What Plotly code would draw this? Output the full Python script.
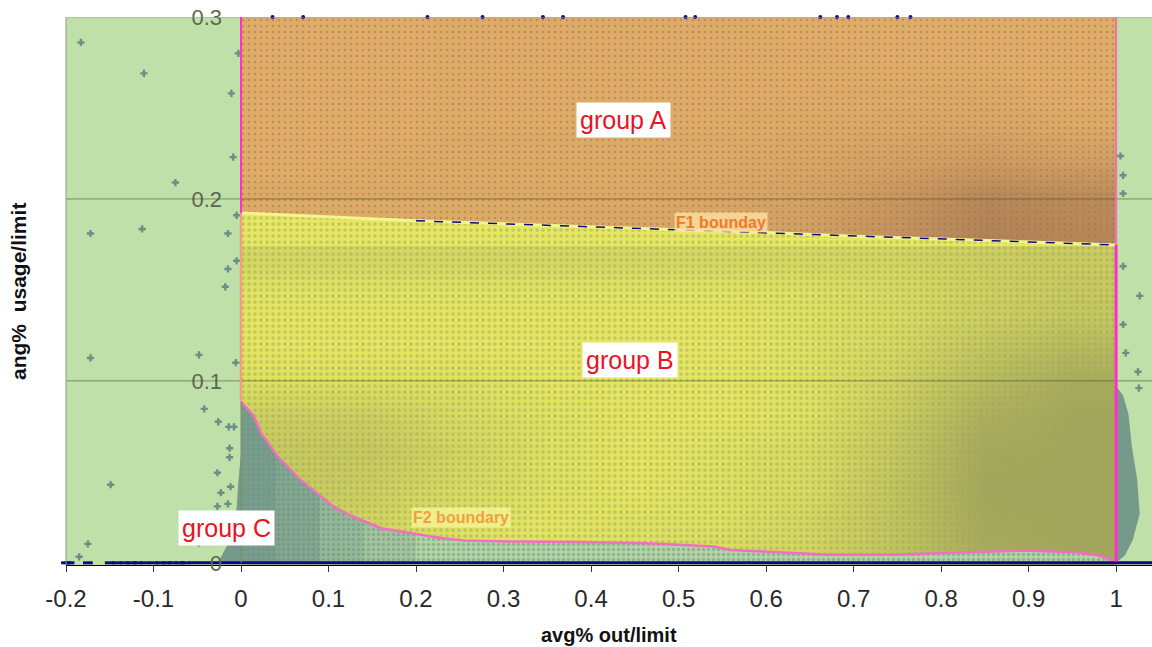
import numpy as np
import plotly.graph_objects as go

# ---------------- data ----------------
# group boundaries
x_lo, x_hi, y_top = 0.0, 1.0, 0.3
f1_x = [0, 0.1, 0.2, 0.3, 0.4, 0.5, 0.6, 0.7, 0.8, 0.9, 1.0]
f1_y = [0.1923, 0.1900, 0.1880, 0.1863, 0.1845, 0.1830, 0.1815, 0.1795, 0.1780, 0.1763, 0.1747]
f2_x = [0, 0.015, 0.023, 0.042, 0.068, 0.091, 0.106, 0.125, 0.145, 0.16, 0.183, 0.198, 0.228,
        0.255, 0.312, 0.388, 0.464, 0.54, 0.559, 0.597, 0.67, 0.746, 0.822, 0.898, 0.955, 0.98, 1.0]
f2_y = [0.0886, 0.0804, 0.0712, 0.0584, 0.0456, 0.0364, 0.0309, 0.026, 0.0218, 0.019, 0.0172, 0.0159,
        0.0137, 0.0123, 0.0117, 0.0114, 0.0108, 0.0090, 0.0071, 0.0062, 0.0044, 0.0044, 0.0057,
        0.0068, 0.0057, 0.004, 0.0007]

# point density (share of area covered by points) - group A
brown_x = [0.05, 0.15, 0.25, 0.35, 0.45, 0.55, 0.65, 0.75, 0.85, 0.95]
brown_y = [0.18, 0.20, 0.22, 0.24, 0.26, 0.28, 0.30]
brown_z = [
    [0.30, 0.30, 0.30, 0.30, 0.35, 0.35, 0.45, 0.60, 0.80, 0.75],
    [0.30, 0.30, 0.30, 0.30, 0.30, 0.35, 0.40, 0.55, 0.75, 0.70],
    [0.25, 0.28, 0.30, 0.30, 0.30, 0.30, 0.35, 0.42, 0.50, 0.45],
    [0.22, 0.25, 0.28, 0.28, 0.28, 0.28, 0.30, 0.32, 0.35, 0.30],
    [0.20, 0.25, 0.28, 0.28, 0.28, 0.28, 0.28, 0.28, 0.30, 0.25],
    [0.18, 0.25, 0.28, 0.28, 0.28, 0.28, 0.28, 0.25, 0.25, 0.20],
    [0.15, 0.25, 0.28, 0.28, 0.28, 0.28, 0.25, 0.22, 0.20, 0.18],
]
# point density - group B
olive_x = [0.05, 0.15, 0.25, 0.35, 0.45, 0.55, 0.65, 0.75, 0.85, 0.95]
olive_y = [0.005, 0.02, 0.04, 0.06, 0.08, 0.10, 0.12, 0.135, 0.15, 0.166]
olive_z = [
    [0.55, 0.55, 0.50, 0.50, 0.50, 0.55, 0.60, 0.75, 0.95, 1.00],
    [0.60, 0.60, 0.50, 0.45, 0.50, 0.50, 0.60, 0.75, 0.98, 1.00],
    [0.70, 0.65, 0.55, 0.50, 0.45, 0.50, 0.55, 0.75, 1.00, 1.00],
    [0.70, 0.70, 0.60, 0.50, 0.45, 0.50, 0.55, 0.72, 0.98, 1.00],
    [0.65, 0.65, 0.55, 0.50, 0.45, 0.45, 0.50, 0.68, 0.92, 1.00],
    [0.50, 0.50, 0.50, 0.45, 0.45, 0.45, 0.50, 0.62, 0.82, 0.95],
    [0.45, 0.45, 0.45, 0.45, 0.45, 0.45, 0.50, 0.58, 0.72, 0.82],
    [0.45, 0.45, 0.45, 0.45, 0.45, 0.45, 0.50, 0.55, 0.65, 0.72],
    [0.48, 0.48, 0.48, 0.48, 0.48, 0.48, 0.50, 0.56, 0.64, 0.70],
    [0.58, 0.58, 0.58, 0.58, 0.58, 0.58, 0.58, 0.60, 0.65, 0.68],
]
# point density - group C (bands along x under F2)
teal_band_x = [0.0, 0.04, 0.09, 0.14, 0.2, 1.0]
teal_band_density = [0.92, 0.78, 0.55, 0.38, 0.15]
# dense group C clusters outside [0, 1]
left_cluster_x = [0.0, -0.003, -0.005, -0.01, -0.022, -0.026, 0.0]
left_cluster_y = [0.06, 0.045, 0.03, 0.015, 0.004, 0.0, 0.0]
right_cluster_x = [1.0, 1.008, 1.014, 1.018, 1.024, 1.027, 1.019, 1.01, 1.0]
right_cluster_y = [0.097, 0.092, 0.082, 0.064, 0.046, 0.027, 0.0126, 0.004, 0.0]

# individual outlying points
out_x = [-0.183, -0.111, -0.003, -0.011, -0.009, -0.075, -0.005, -0.172, -0.113, -0.015, -0.005,
         -0.015, -0.018, -0.172, -0.048, -0.006, -0.042, -0.026, -0.014, -0.008, -0.013, -0.013,
         -0.027, -0.012, -0.149, -0.023, -0.027, -0.015, -0.175, -0.185, -0.048,
         1.008, 1.008, 1.027, 1.008, 1.011, 1.025, 1.026, 1.005, 1.008]
out_y = [0.286, 0.269, 0.280, 0.258, 0.223, 0.209, 0.191, 0.181, 0.1835, 0.181, 0.166,
         0.1615, 0.1517, 0.1126, 0.1143, 0.110, 0.0846, 0.0775, 0.0747, 0.0747, 0.063, 0.058,
         0.0495, 0.0418, 0.0429, 0.0385, 0.031, 0.0324, 0.0104, 0.0033, 0.011,
         0.203, 0.163, 0.1467, 0.131, 0.1154, 0.105, 0.096, 0.2236, 0.213]
top_x = [0.036, 0.071, 0.213, 0.276, 0.345, 0.368, 0.508, 0.519, 0.662, 0.681, 0.694, 0.75, 0.765]
zero_x = [-0.2, -0.196, -0.175, -0.15, -0.142, -0.133, -0.125, -0.118, -0.11, -0.1, -0.092,
          -0.085, -0.078, -0.07, -0.064]
zero_run_x = [-0.06, 1.041]

x_range = [-0.2, 1.041]
y_range = [-0.0012, 0.3]
x_ticks = [-0.2, -0.1, 0, 0.1, 0.2, 0.3, 0.4, 0.5, 0.6, 0.7, 0.8, 0.9, 1.0]
x_ticktext = ["-0.2", "-0.1", "0", "0.1", "0.2", "0.3", "0.4", "0.5", "0.6", "0.7", "0.8", "0.9", "1"]
y_ticks = [0, 0.1, 0.2, 0.3]
y_ticktext = ["0", "0.1", "0.2", "0.3"]

# ---------------- colours ----------------
GREEN = "#bfe0a8"
ORANGE = "#deac68"
BROWN = "160,115,80"
YELLOW = "#e6e862"
OLIVE = "161,166,92"
TEAL = "107,143,134"
NAVY = "#0a0a80"
MAGENTA = "#ff30c8"
FONT = "Liberation Sans"

fig = go.Figure()
L1 = dict(xaxis="x", yaxis="y")      # base layer
L2 = dict(xaxis="x2", yaxis="y2")    # overlay 1
L3 = dict(xaxis="x3", yaxis="y3")    # overlay 2 (top)

# ---- layer 1: group A area
fig.add_trace(go.Scatter(
    x=f1_x + [x_hi, x_lo, x_lo], y=f1_y + [y_top, y_top, f1_y[0]],
    mode="lines", line=dict(width=0), fill="toself",
    fillpattern=dict(shape=".", fgcolor=f"rgb({BROWN})", bgcolor=ORANGE, size=6, solidity=0.13),
    hoverinfo="skip", showlegend=False, **L1))

# ---- layer 2: group A density + group B area
fig.add_trace(go.Heatmap(
    x=brown_x, y=brown_y, z=brown_z, zmin=0.27, zmax=1.0, zsmooth="best",
    colorscale=[[0, f"rgba({BROWN},0)"], [1, f"rgba({BROWN},1)"]],
    showscale=False, hoverinfo="skip", **L2))
fig.add_trace(go.Scatter(
    x=f1_x + f2_x[::-1] + [f1_x[0]], y=f1_y + f2_y[::-1] + [f1_y[0]],
    mode="lines", line=dict(width=0), fill="toself",
    fillpattern=dict(shape=".", fgcolor=f"rgb({OLIVE})", bgcolor=YELLOW, size=6, solidity=0.3),
    hoverinfo="skip", showlegend=False, **L2))

# ---- layer 3: group B density + group C + lines + points
fig.add_trace(go.Heatmap(
    x=olive_x, y=olive_y, z=olive_z, zmin=0.44, zmax=1.0, zsmooth="best",
    colorscale=[[0, f"rgba({OLIVE},0)"], [1, f"rgba({OLIVE},1)"]],
    showscale=False, hoverinfo="skip", **L3))
fig.add_trace(go.Scatter(
    x=f2_x + [x_hi, x_lo, x_lo], y=f2_y + [0, 0, f2_y[0]],
    mode="lines", line=dict(width=0), fill="toself",
    fillpattern=dict(shape=".", fgcolor=f"rgb({TEAL})", bgcolor=GREEN, size=5, solidity=0.35),
    hoverinfo="skip", showlegend=False, **L3))
fx = np.array(f2_x)
fy = np.array(f2_y)
for i, dens in enumerate(teal_band_density):
    a, b = teal_band_x[i], teal_band_x[i + 1]
    inner = (fx > a) & (fx < b)
    xs = [a] + list(fx[inner]) + [b]
    ys = [float(np.interp(a, fx, fy))] + list(fy[inner]) + [float(np.interp(b, fx, fy))]
    fig.add_trace(go.Scatter(
        x=xs + [b, a, a], y=ys + [0, 0, ys[0]],
        mode="lines", line=dict(width=0), fill="toself",
        fillcolor=f"rgba({TEAL},{dens * 0.9:.2f})",
        hoverinfo="skip", showlegend=False, **L3))
for cx, cy in ((left_cluster_x, left_cluster_y), (right_cluster_x, right_cluster_y)):
    fig.add_trace(go.Scatter(
        x=cx, y=cy, mode="lines", line=dict(width=0), fill="toself",
        fillcolor=f"rgba({TEAL},0.88)", hoverinfo="skip", showlegend=False, **L3))

fig.add_trace(go.Scatter(
    x=out_x, y=out_y, mode="markers",
    marker=dict(symbol="cross", size=6, color=f"rgb({TEAL})", line=dict(width=0)),
    hoverinfo="skip", showlegend=False, **L3))
fig.add_trace(go.Scatter(
    x=top_x, y=[y_top] * len(top_x), mode="markers", cliponaxis=False,
    marker=dict(symbol="circle", size=4, color=NAVY),
    hoverinfo="skip", showlegend=False, **L3))

fig.add_trace(go.Scatter(x=f1_x, y=f1_y, mode="lines", line=dict(color="#f6f490", width=3),
                         hoverinfo="skip", showlegend=False, **L3))
fig.add_trace(go.Scatter(x=f1_x[2:], y=f1_y[2:], mode="lines",
                         line=dict(color=NAVY, width=1.5, dash="dash"),
                         hoverinfo="skip", showlegend=False, **L3))
fig.add_trace(go.Scatter(x=f2_x, y=f2_y, mode="lines", line=dict(color="#f070c0", width=2.5),
                         hoverinfo="skip", showlegend=False, **L3))

fig.add_trace(go.Scatter(
    x=zero_x, y=[0] * len(zero_x), mode="markers", cliponaxis=False,
    marker=dict(symbol="line-ew", size=7, line=dict(width=3, color=NAVY)),
    hoverinfo="skip", showlegend=False, **L3))
fig.add_trace(go.Scatter(
    x=zero_run_x, y=[0, 0], mode="lines", line=dict(color=NAVY, width=3),
    hoverinfo="skip", showlegend=False, **L3))

shapes = []
for gy in (0.1, 0.2):
    shapes.append(dict(type="line", xref="paper", x0=0, x1=1, yref="y", y0=gy, y1=gy,
                       line=dict(color="rgba(70,85,35,0.6)", width=1), layer="above"))
shapes.append(dict(type="line", xref="paper", x0=0, x1=1, yref="y", y0=y_top, y1=y_top,
                   line=dict(color="#a0a0a0", width=1), layer="above"))
shapes.append(dict(type="line", xref="paper", x0=0, x1=0, yref="paper", y0=0, y1=1,
                   line=dict(color="#8f9a88", width=1), layer="above"))
shapes.append(dict(type="line", x0=x_lo, x1=x_lo, y0=0, y1=f2_y[0],
                   line=dict(color="#7c8c62", width=1), layer="above"))
shapes.append(dict(type="line", x0=x_lo, x1=x_lo, y0=f2_y[0], y1=f1_y[0],
                   line=dict(color="#f0a080", width=2.5), layer="above"))
shapes.append(dict(type="line", x0=x_lo, x1=x_lo, y0=f1_y[0], y1=y_top,
                   line=dict(color=MAGENTA, width=2), layer="above"))
shapes.append(dict(type="line", x0=x_hi, x1=x_hi, y0=f2_y[-1], y1=f1_y[-1],
                   line=dict(color=MAGENTA, width=3), layer="above"))
shapes.append(dict(type="line", x0=x_hi, x1=x_hi, y0=f1_y[-1], y1=y_top,
                   line=dict(color="#f070b0", width=2), layer="above"))


def label(text, x, y, size=25):
    return dict(x=x, y=y, text=text, showarrow=False, bgcolor="white", borderpad=3,
                font=dict(family=FONT, size=size, color="#e8141e"))


annotations = [
    label("group A", 0.437, 0.2434),
    label("group B", 0.445, 0.1115),
    label("group C", -0.017, 0.0192),
    dict(x=0.549, y=0.1868, text="<b>F1 bounday</b>", showarrow=False,
         bgcolor="rgba(250,225,160,0.8)", borderpad=1,
         font=dict(family=FONT, size=16, color="#f07830")),
    dict(x=0.251, y=0.0247, text="<b>F2 boundary</b>", showarrow=False,
         bgcolor="rgba(245,245,150,0.8)", borderpad=1,
         font=dict(family=FONT, size=16, color="#f0a040")),
    dict(xref="paper", yref="paper", x=0.5, y=-0.128, xanchor="center", yanchor="middle",
         text="<b>avg% out/limit</b>", showarrow=False,
         font=dict(family=FONT, size=20, color="#111")),
    dict(xref="paper", yref="paper", x=-0.0442, y=0.5, xanchor="center", yanchor="middle",
         text="<b>ang%  usage/limit</b>", textangle=-90, showarrow=False,
         font=dict(family=FONT, size=21, color="#111")),
]

hidden_x = dict(range=x_range, visible=False, showgrid=False, zeroline=False)
hidden_y = dict(range=y_range, visible=False, showgrid=False, zeroline=False)

fig.update_layout(
    width=1152, height=647,
    margin=dict(l=66, r=0, t=17, b=82, autoexpand=False),
    paper_bgcolor="white", plot_bgcolor=GREEN,
    shapes=shapes, annotations=annotations,
    xaxis=dict(range=x_range, tickvals=x_ticks, ticktext=x_ticktext, automargin=False,
               ticks="outside", ticklen=6, tickcolor="#333", showgrid=False, zeroline=False,
               showline=True, linecolor="#000", linewidth=1,
               tickfont=dict(family=FONT, size=24, color="#2a2a2a"), ticklabelstandoff=6),
    yaxis=dict(range=y_range, tickvals=y_ticks, ticktext=y_ticktext, automargin=False,
               anchor="free", position=0.2 / 1.241, showgrid=False, zeroline=False,
               showline=False, ticks="",
               tickfont=dict(family=FONT, size=22, color="#5c6652"), ticklabelstandoff=19),
    xaxis2=dict(overlaying="x", anchor="y2", **hidden_x),
    yaxis2=dict(overlaying="y", anchor="x2", **hidden_y),
    xaxis3=dict(overlaying="x", anchor="y3", **hidden_x),
    yaxis3=dict(overlaying="y", anchor="x3", **hidden_y),
)

fig.write_html("out.html", config={"displayModeBar": False},
               post_script="document.body.style.margin='0';document.body.style.overflow='hidden';")
